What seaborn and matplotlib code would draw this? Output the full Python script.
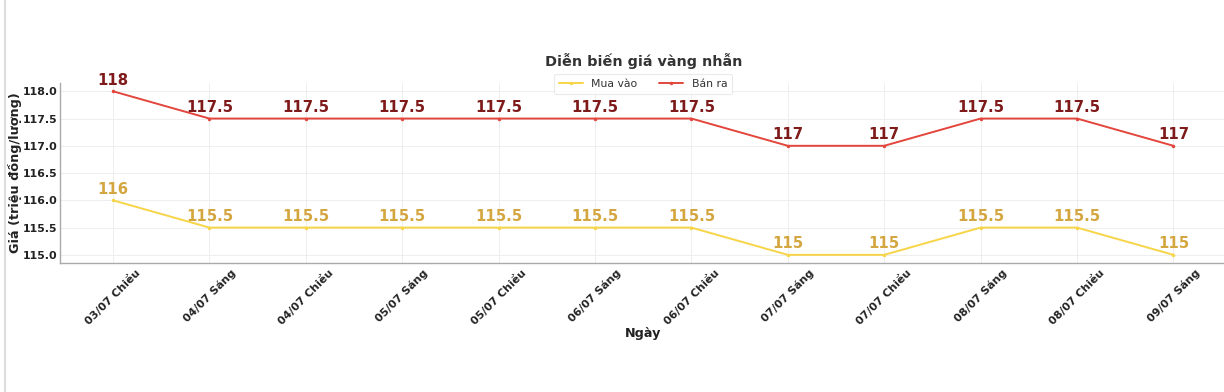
import matplotlib
matplotlib.use("Agg")
import matplotlib.pyplot as plt
import seaborn as sns
import pandas as pd
from matplotlib.lines import Line2D

dates = ["03/07 Chiều", "04/07 Sáng", "04/07 Chiều", "05/07 Sáng", "05/07 Chiều",
         "06/07 Sáng", "06/07 Chiều", "07/07 Sáng", "07/07 Chiều", "08/07 Sáng",
         "08/07 Chiều", "09/07 Sáng"]
mua_vao = [116, 115.5, 115.5, 115.5, 115.5, 115.5, 115.5, 115, 115, 115.5, 115.5, 115]
ban_ra = [118, 117.5, 117.5, 117.5, 117.5, 117.5, 117.5, 117, 117, 117.5, 117.5, 117]
series_names = ["Mua vào", "Bán ra"]

sns.set_theme(style="whitegrid")
plt.rcParams['font.family'] = ['DejaVu Sans']

line_colors = {"Mua vào": "#F7D548", "Bán ra": "#E2463C"}
label_colors = {"Mua vào": "#D4A640", "Bán ra": "#7E1A1A"}

pos = list(range(len(dates)))
df = pd.concat([
    pd.DataFrame({"x": pos, "Giá": mua_vao, "Loại": series_names[0]}),
    pd.DataFrame({"x": pos, "Giá": ban_ra, "Loại": series_names[1]}),
])

fig = plt.figure(figsize=(12.24, 3.92), dpi=100)
ax = fig.add_axes([0.049, 0.329, 0.953, 0.459])

sns.lineplot(data=df, x="x", y="Giá", hue="Loại", palette=line_colors, ax=ax,
             marker="o", markersize=2.5, markeredgewidth=0, linewidth=1.4)

for name, vals in zip(series_names, [mua_vao, ban_ra]):
    for xi, v in zip(pos, vals):
        txt = f"{v:g}"
        ax.annotate(txt, (xi, v), xytext=(0, 2.5), textcoords="offset points",
                    ha="center", va="bottom", fontsize=10.7, fontweight="bold",
                    color=label_colors[name])

ax.set_xlim(-0.55, 11.55)
ax.set_ylim(114.85, 118.15)
ax.set_yticks([115.0, 115.5, 116.0, 116.5, 117.0, 117.5, 118.0])
ax.set_yticklabels([f"{t:.1f}" for t in ax.get_yticks()])
ax.set_xticks(pos)
ax.set_xticklabels(dates, rotation=45, ha="center")
for lbl in ax.get_xticklabels() + ax.get_yticklabels():
    lbl.set_fontweight("bold")
    lbl.set_fontsize(7.9)
    lbl.set_color("#222222")

ax.tick_params(axis="x", pad=3)
ax.tick_params(axis="y", pad=2)
ax.set_xlabel("Ngày", fontsize=9.2, fontweight="bold", color="#222222", labelpad=0)
ax.set_ylabel("Giá (triệu đồng/lượng)", fontsize=9.2, fontweight="bold", color="#222222")
ax.yaxis.set_label_coords(-0.0325, 0.5)
ax.set_title("Diễn biến giá vàng nhẫn", fontsize=10.4, fontweight="bold", color="#333333", pad=12)

ax.grid(True, color="#EBEBEB", linewidth=0.6, linestyle="-")
for s in ["top", "right"]:
    ax.spines[s].set_visible(False)
for s in ["left", "bottom"]:
    ax.spines[s].set_visible(True)
    ax.spines[s].set_color("#AAAAAA")
    ax.spines[s].set_linewidth(1.0)
ax.tick_params(axis="both", length=0)

leg = ax.legend(loc="center", bbox_to_anchor=(0.5, 0.995), ncol=2, fontsize=7.8,
                frameon=True, handlelength=2.2, columnspacing=2.0, borderpad=0.45)
leg.get_frame().set_edgecolor("#E5E5E5")
leg.get_frame().set_linewidth(0.8)
leg.set_title(None)
for t in leg.get_texts():
    t.set_color("#333333")

fig.add_artist(Line2D([0.004, 0.004], [0, 1], transform=fig.transFigure, color="#DDDDDD", linewidth=1.5))

fig.savefig("out.png", dpi=100)
